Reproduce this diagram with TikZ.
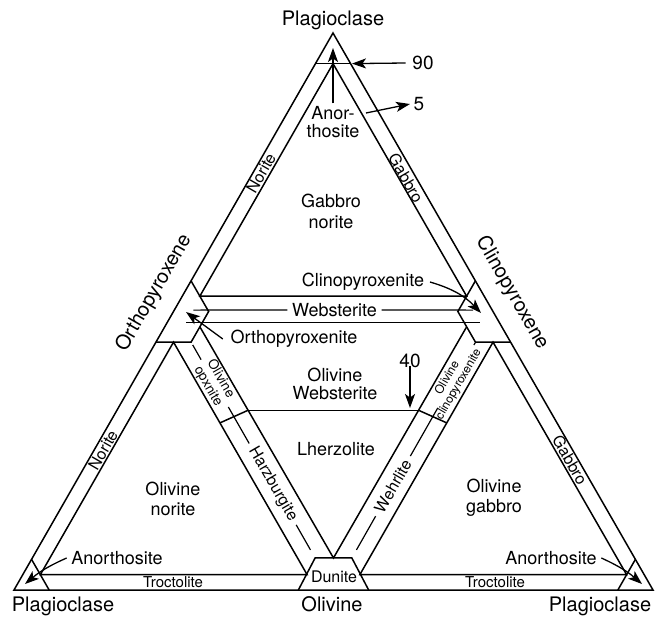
\documentclass[tikz,border=0pt]{standalone}
\usepackage{fontspec}
\setmainfont{TeX Gyre Heros}
\usetikzlibrary{calc,arrows.meta}
\begin{document}
\begin{tikzpicture}[x=1pt,y=-1pt,line width=1.5pt,line join=miter,
  lead/.style={line width=1.2pt},
  arr/.style={line width=1.3pt,-{Stealth[length=14pt,width=10pt,inset=3.5pt]}},
  vlab/.style={font=\fontsize{20}{22}\selectfont,inner sep=0pt},
  lab/.style={font=\fontsize{18}{20}\selectfont,align=center,inner sep=0pt},
  num/.style={font=\fontsize{19}{20}\selectfont,inner sep=0pt},
  striplab/.style={font=\fontsize{16}{17}\selectfont,inner sep=0pt},
  smalllab/.style={font=\fontsize{15}{16}\selectfont,inner sep=0pt},
  tinylab/.style={font=\fontsize{13.5}{14.5}\selectfont,align=center,inner sep=0pt}]
\useasboundingbox (0,0) rectangle (659,618);
% main vertices
\coordinate (A) at (333,33);
\coordinate (B) at (14,590);
\coordinate (C) at (653,590);
\coordinate (O) at ($(A)!0.5!(B)$);
\coordinate (X) at ($(A)!0.5!(C)$);
\coordinate (V) at ($(B)!0.5!(C)$);
% top triangle
\coordinate (T90L) at (barycentric cs:A=.89,O=.11);
\coordinate (T90R) at (barycentric cs:A=.89,X=.11);
\coordinate (N0) at (barycentric cs:A=.89,O=.055,X=.055);
\coordinate (J1) at (barycentric cs:A=.055,O=.89,X=.055);
\coordinate (J2) at (barycentric cs:A=.055,O=.055,X=.89);
\coordinate (Q1) at (barycentric cs:A=.11,O=.89);
\coordinate (Q2) at (barycentric cs:O=.89,X=.11);
\coordinate (K1) at (barycentric cs:A=.11,X=.89);
\coordinate (K2) at (barycentric cs:O=.11,X=.89);
% middle triangle
\coordinate (Q3) at (barycentric cs:O=.89,V=.11);
\coordinate (K3) at (barycentric cs:X=.89,V=.11);
\coordinate (D1) at (barycentric cs:O=.115,V=.885);
\coordinate (D2) at (barycentric cs:X=.115,V=.885);
\coordinate (MQt) at (barycentric cs:O=.89,X=.055,V=.055);
\coordinate (MWt) at (barycentric cs:O=.055,X=.89,V=.055);
\coordinate (Mbot) at (barycentric cs:O=.0575,X=.0575,V=.885);
\coordinate (W1) at (barycentric cs:O=.94,X=.02,V=.04);
\coordinate (W2) at (barycentric cs:O=.02,X=.94,V=.04);
\coordinate (F1) at (barycentric cs:O=.59,X=.055,V=.355);
\coordinate (F2) at (barycentric cs:O=.055,X=.59,V=.355);
% left triangle
\coordinate (Q4) at (barycentric cs:B=.11,O=.89);
\coordinate (LB1) at (barycentric cs:B=.89,O=.11);
\coordinate (LB2) at (barycentric cs:B=.89,V=.11);
\coordinate (LNt) at (barycentric cs:B=.055,O=.89,V=.055);
\coordinate (LNb) at (barycentric cs:B=.89,O=.055,V=.055);
\coordinate (LTr) at (barycentric cs:B=.055,O=.055,V=.89);
\coordinate (DL) at (barycentric cs:B=.11,V=.89);
\coordinate (G1) at (barycentric cs:B=.055,O=.6,V=.345);
% right triangle
\coordinate (K4) at (barycentric cs:C=.11,X=.89);
\coordinate (RC1) at (barycentric cs:C=.89,X=.11);
\coordinate (RC2) at (barycentric cs:C=.89,V=.11);
\coordinate (RNt) at (barycentric cs:C=.055,X=.89,V=.055);
\coordinate (RNb) at (barycentric cs:C=.89,X=.055,V=.055);
\coordinate (RTr) at (barycentric cs:C=.055,X=.055,V=.89);
\coordinate (DR) at (barycentric cs:C=.11,V=.89);
\coordinate (G2) at (barycentric cs:C=.055,X=.6,V=.345);

% outlines
\draw (A) -- (B) -- (C) -- cycle;
\draw (T90L) -- (T90R);
\draw (J1) -- (N0) -- (J2) -- cycle;
\draw (Q1) -- (Q2) -- (Q3) -- (Q4);
\draw (K1) -- (K2) -- (K3) -- (K4);
\draw (W1) -- (W2);
\draw (MQt) -- (Mbot) -- (MWt);
\draw (F1) -- (F2);
\draw (F1) -- (G1);
\draw (F2) -- (G2);
\draw (DL) -- (D1) -- (D2) -- (DR);
\draw (LB1) -- (LB2);
\draw (LNt) -- (LNb) -- (LTr) -- cycle;
\draw (RC1) -- (RC2);
\draw (RNt) -- (RNb) -- (RTr) -- cycle;

% vertex labels
\node[vlab,anchor=base] (plt) at (333,26) {Plagioclase};
\node[vlab,anchor=base] (plbl) at (63,611) {Plagioclase};
\node[vlab,anchor=base] (olb) at (332,611) {Olivine};
\node[vlab,anchor=base] (plbr) at (600,611) {Plagioclase};
\node[vlab,rotate=60] (opxv) at (154,293) {Orthopyroxene};
\node[vlab,rotate=-60] (cpxv) at (512,293) {Clinopyroxene};

% field labels
\node[lab,font=\fontsize{18}{18.5}\selectfont] (ano) at (333,122) {Anor-\\thosite};
\node[lab,font=\fontsize{18}{21}\selectfont] (gbn) at (331,211) {Gabbro\\norite};
\node[lab] (cpxt) at (363,282) {Clinopyroxenite};
\node[lab] (web) at (334.5,310) {Websterite};
\node[lab] (opxt) at (294,339) {Orthopyroxenite};
\node[lab,font=\fontsize{18}{18.5}\selectfont] (olweb) at (335,384) {Olivine\\Websterite};
\node[lab] (lhz) at (336,449) {Lherzolite};
\node[lab] (olnor) at (173,499) {Olivine\\norite};
\node[lab] (olgab) at (494,498) {Olivine\\gabbro};
\node[lab] (anl) at (117,558) {Anorthosite};
\node[lab] (anr) at (551,558) {Anorthosite};

% strip labels
\node[striplab,rotate=60] (nort) at (261,173) {Norite};
\node[striplab,rotate=-60] (gabt) at (406,178) {Gabbro};
\node[striplab,rotate=60] (norl) at (103,450) {Norite};
\node[striplab,rotate=-60] (gabr) at (570,460) {Gabbro};
\node[smalllab] (trl) at (173,582) {Troctolite};
\node[smalllab] (trr) at (495,582) {Troctolite};
\node[smalllab,font=\fontsize{16}{17}\selectfont] (dun) at (334,577) {Dunite};
\node[striplab,rotate=-60] (hz) at ($(O)!0.62!(V)$) {Harzburgite};
\node[striplab,rotate=60] (wh) at ($(X)!0.627!(V)$) {Wehrlite};
\node[tinylab,rotate=-60] (oopx) at ($(O)!0.255!(V)$) {Olivine\\opxnite};
\node[tinylab,rotate=60,font=\fontsize{12}{13}\selectfont] (ocpx) at ($(X)!0.25!(V)$) {Olivine\\clinopyroxenite};

% numbers
\node[num] (n90) at (423,63) {90};
\node[num] (n5) at (419,104) {5};
\node[num] (n40) at (410,361) {40};

% leader lines
\coordinate (wbL) at (barycentric cs:A=.005,O=.935,X=.06);
\coordinate (wbR) at (barycentric cs:A=.005,O=.06,X=.935);
\draw[lead] (wbL) -- ([xshift=-4pt]web.west);
\draw[lead] ([xshift=4pt]web.east) -- (wbR);
\coordinate (hzA) at ($(O)!0.12!(V)$);
\coordinate (hzB) at ($(O)!0.343!(V)$);
\coordinate (hzC) at ($(O)!0.856!(V)$);
\draw[lead] (hzA) -- ($(oopx.west)!-4pt!(oopx.east)$);
\draw[lead] (hzB) -- ($(hz.west)!-5pt!(hz.east)$);
\draw[lead] ($(hz.east)!-5pt!(hz.west)$) -- (hzC);
\coordinate (whA) at ($(X)!0.12!(V)$);
\coordinate (whB) at ($(X)!0.346!(V)$);
\coordinate (whC) at ($(X)!0.856!(V)$);
\draw[lead] (whA) -- ($(ocpx.east)!-4pt!(ocpx.west)$);
\draw[lead] (whB) -- ($(wh.east)!-5pt!(wh.west)$);
\draw[lead] ($(wh.west)!-5pt!(wh.east)$) -- (whC);

% arrows
\coordinate (apx) at (333,48);
\coordinate (p90) at (352,63.6);
\coordinate (s5) at (366,113);
\coordinate (p40) at (410,408);
\coordinate (ctip) at (481,313);
\coordinate (otip) at (186,312);
\coordinate (atl) at (25,584);
\coordinate (atr) at (642,584);
\draw[arr] (ano.north) ++(0,-2) -- (apx);
\draw[arr] ([xshift=-6pt]n90.west) -- (p90);
\draw[arr] (s5) -- ([xshift=-3pt]n5.west);
\draw[arr] ([yshift=3pt]n40.south) -- (p40);
\draw[arr] ([xshift=5pt]cpxt.east) to[bend left=15] (ctip);
\draw[arr] ([xshift=-7pt]opxt.west) -- (otip);
\draw[arr] ([xshift=-4pt]anl.west) to[bend right=8] (atl);
\draw[arr] ([xshift=4pt]anr.east) to[bend left=8] (atr);
\end{tikzpicture}
\end{document}
